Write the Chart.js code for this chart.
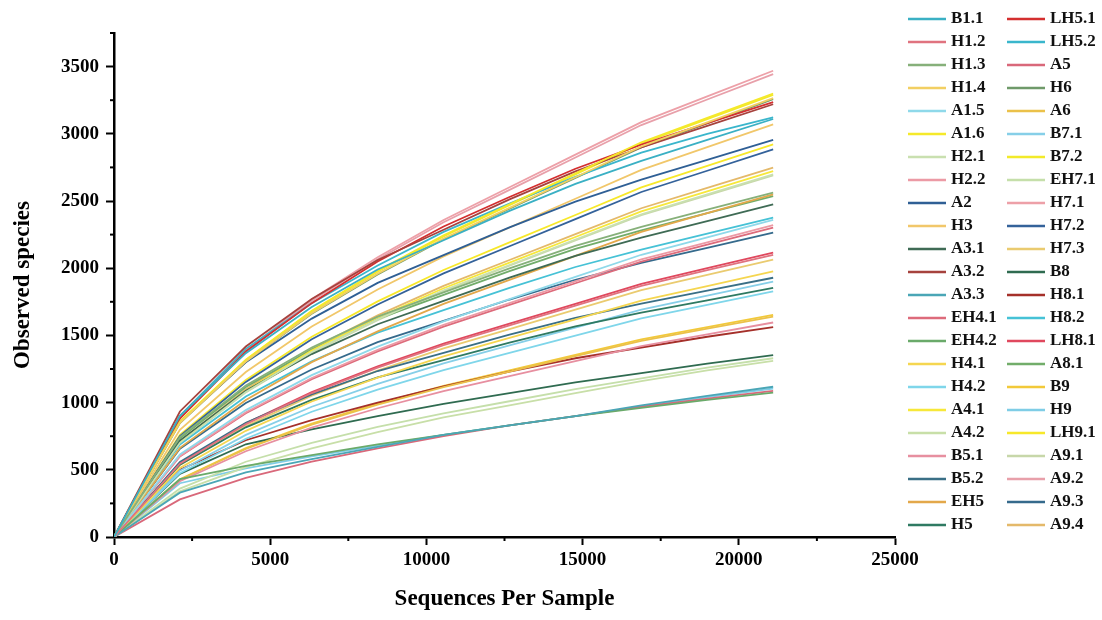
<!DOCTYPE html>
<html>
<head>
<meta charset="utf-8">
<script src="https://cdn.jsdelivr.net/npm/chart.js@4.4.1/dist/chart.umd.min.js"></script>
<style>
  html, body { margin: 0; padding: 0; background: #fff; }
  #wrap { width: 1102px; height: 620px; }
</style>
</head>
<body>
<div id="wrap"><canvas id="chartRarefaccion"></canvas></div>
<script>
// Profundidad de muestreo (eje X)
const profundidades = [0, 2110, 4220, 6330, 8440, 10550, 12660, 14770, 16880, 18990, 21100];

// Columna 1 de la leyenda
const B1_1  = [0, 902, 1368, 1711, 1990, 2208, 2426, 2628, 2799, 2955, 3110];
const H1_2  = [0, 546, 840, 1071, 1260, 1428, 1575, 1722, 1869, 1985, 2100];
const H1_3  = [0, 743, 1128, 1410, 1640, 1820, 1999, 2166, 2307, 2435, 2563];
const H1_4  = [0, 849, 1306, 1665, 1959, 2220, 2449, 2677, 2906, 3085, 3265];
const A1_5  = [0, 614, 944, 1204, 1416, 1605, 1770, 1935, 2100, 2230, 2360];
const A1_6  = [0, 858, 1320, 1683, 1980, 2244, 2475, 2706, 2937, 3119, 3300];
const H2_1  = [0, 701, 1079, 1376, 1619, 1835, 2024, 2212, 2401, 2550, 2698];
const H2_2  = [0, 603, 928, 1183, 1392, 1578, 1740, 1902, 2065, 2192, 2320];
const A2    = [0, 857, 1300, 1625, 1891, 2097, 2304, 2496, 2659, 2806, 2954];
const H3    = [0, 798, 1228, 1566, 1842, 2088, 2303, 2517, 2732, 2901, 3070];
const A3_1  = [0, 717, 1089, 1361, 1583, 1757, 1930, 2091, 2227, 2350, 2474];
const A3_2  = [0, 934, 1417, 1771, 2061, 2286, 2512, 2721, 2898, 3059, 3220];
const A3_3  = [0, 330, 480, 580, 670, 760, 830, 900, 980, 1050, 1118];
const EH4_1 = [0, 599, 921, 1174, 1381, 1565, 1727, 1888, 2049, 2175, 2302];
const EH4_2 = [0, 430, 530, 610, 690, 760, 830, 900, 960, 1020, 1075];
const H4_1  = [0, 514, 790, 1008, 1186, 1344, 1482, 1620, 1759, 1867, 1976];
const H4_2  = [0, 475, 731, 932, 1096, 1242, 1370, 1498, 1626, 1727, 1827];
const A4_1  = [0, 708, 1089, 1388, 1633, 1851, 2042, 2232, 2423, 2572, 2722];
const A4_2  = [0, 340, 520, 660, 780, 890, 980, 1070, 1160, 1240, 1310];
const B5_1  = [0, 415, 638, 814, 958, 1085, 1197, 1309, 1420, 1508, 1596];
const B5_2  = [0, 559, 849, 1061, 1235, 1370, 1505, 1630, 1736, 1833, 1929];
const EH5   = [0, 663, 1020, 1301, 1530, 1734, 1913, 2091, 2270, 2410, 2550];
const H5    = [0, 538, 816, 1020, 1187, 1316, 1446, 1567, 1669, 1761, 1854];

// Columna 2 de la leyenda
const LH5_1 = [0, 880, 1380, 1740, 2050, 2310, 2530, 2740, 2920, 3080, 3235];
const LH5_2 = [0, 900, 1400, 1740, 2020, 2270, 2480, 2680, 2860, 3000, 3123];
const A5    = [0, 280, 440, 560, 660, 750, 830, 900, 970, 1030, 1088];
const H6    = [0, 847, 1303, 1661, 1954, 2215, 2443, 2671, 2899, 3078, 3257];
const A6    = [0, 426, 656, 836, 984, 1115, 1230, 1345, 1460, 1550, 1640];
const B7_1  = [0, 494, 760, 969, 1140, 1292, 1425, 1558, 1691, 1796, 1900];
const B7_2  = [0, 855, 1316, 1678, 1974, 2237, 2468, 2698, 2928, 3109, 3290];
const EH7_1 = [0, 360, 560, 700, 820, 920, 1010, 1100, 1180, 1260, 1330];
const H7_1  = [0, 902, 1388, 1769, 2081, 2359, 2602, 2845, 3087, 3278, 3469];
const H7_2  = [0, 750, 1154, 1471, 1730, 1961, 2163, 2365, 2567, 2725, 2884];
const H7_3  = [0, 536, 825, 1052, 1238, 1403, 1547, 1692, 1836, 1950, 2063];
const B8    = [0, 470, 690, 800, 900, 990, 1070, 1150, 1220, 1290, 1354];
const H8_1  = [0, 500, 720, 870, 1000, 1120, 1230, 1330, 1410, 1490, 1561];
const H8_2  = [0, 689, 1046, 1307, 1521, 1688, 1854, 2009, 2139, 2258, 2377];
const LH8_1 = [0, 550, 846, 1079, 1270, 1439, 1587, 1735, 1883, 2000, 2116];
const A8_1  = [0, 735, 1116, 1395, 1623, 1801, 1978, 2143, 2282, 2409, 2536];
const B9    = [0, 430, 661, 843, 992, 1124, 1240, 1355, 1471, 1562, 1653];
const H9    = [0, 400, 510, 600, 680, 760, 830, 900, 970, 1040, 1105];
const LH9_1 = [0, 760, 1169, 1490, 1753, 1987, 2192, 2396, 2601, 2761, 2922];
const A9_1  = [0, 699, 1076, 1372, 1614, 1829, 2018, 2206, 2394, 2542, 2690];
const A9_2  = [0, 895, 1378, 1756, 2066, 2342, 2583, 2824, 3065, 3255, 3444];
const A9_3  = [0, 657, 997, 1246, 1450, 1608, 1767, 1914, 2039, 2152, 2265];
const A9_4  = [0, 714, 1099, 1401, 1649, 1869, 2061, 2253, 2446, 2597, 2748];

const muestras = [
  'B1.1', 'H1.2', 'H1.3', 'H1.4', 'A1.5', 'A1.6', 'H2.1', 'H2.2', 'A2', 'H3', 'A3.1', 'A3.2',
  'A3.3', 'EH4.1', 'EH4.2', 'H4.1', 'H4.2', 'A4.1', 'A4.2', 'B5.1', 'B5.2', 'EH5', 'H5',
  'LH5.1', 'LH5.2', 'A5', 'H6', 'A6', 'B7.1', 'B7.2', 'EH7.1', 'H7.1', 'H7.2', 'H7.3', 'B8',
  'H8.1', 'H8.2', 'LH8.1', 'A8.1', 'B9', 'H9', 'LH9.1', 'A9.1', 'A9.2', 'A9.3', 'A9.4'
];
const valores = [
  B1_1, H1_2, H1_3, H1_4, A1_5, A1_6, H2_1, H2_2, A2, H3, A3_1, A3_2,
  A3_3, EH4_1, EH4_2, H4_1, H4_2, A4_1, A4_2, B5_1, B5_2, EH5, H5,
  LH5_1, LH5_2, A5, H6, A6, B7_1, B7_2, EH7_1, H7_1, H7_2, H7_3, B8,
  H8_1, H8_2, LH8_1, A8_1, B9, H9, LH9_1, A9_1, A9_2, A9_3, A9_4
];
const colores = [
  '#3ab0c4', '#e0737f', '#86b07a', '#f2cf62', '#8fd9ea', '#f5e92a', '#c9e0b0', '#ec9aa5',
  '#2f5f95', '#f1c76a', '#3f6b55', '#a6423d', '#4aa6b6', '#dd6b7b', '#6aaa6a', '#f5d650',
  '#7fd6ea', '#f7e83a', '#c8dfa8', '#e78fa0', '#3a6f86', '#e3a84a', '#2f7a62',
  '#d42f2f', '#3ab6cc', '#d9687a', '#6f9a6a', '#ebc14a', '#86cfe8', '#f2ea2a', '#c5dfaa',
  '#eda0a8', '#34629a', '#eacb70', '#2f6b50', '#a5302a', '#46c2d6', '#e0485e', '#72ad6a',
  '#f2c93a', '#7fcde6', '#f7e82a', '#c7d7a9', '#e8a0aa', '#356a8c', '#e4b96a'
];

const fuente = '"Liberation Serif", "Times New Roman", serif';
const filasPorColumna = 23;

// Leyenda en dos columnas, dibujada a mano
const leyendaPlugin = {
  id: 'leyendaColumnas',
  afterDraw(chart) {
    const ctx = chart.ctx;
    ctx.save();
    ctx.font = 'bold 17px ' + fuente;
    ctx.textBaseline = 'middle';
    ctx.textAlign = 'left';
    chart.data.datasets.forEach((ds, i) => {
      const col = Math.floor(i / filasPorColumna);
      const fila = i % filasPorColumna;
      const x0 = col === 0 ? 908 : 1007;
      const y = 19 + fila * 23;
      ctx.strokeStyle = ds.borderColor;
      ctx.lineWidth = 2.5;
      ctx.beginPath();
      ctx.moveTo(x0, y);
      ctx.lineTo(x0 + 38, y);
      ctx.stroke();
      ctx.fillStyle = '#111';
      ctx.fillText(ds.label, x0 + 43, y);
    });
    ctx.restore();
  }
};

// Ticks menores (más cortos)
const ticksMenores = {
  id: 'ticksMenores',
  afterDraw(chart) {
    const ctx = chart.ctx;
    const {x, y} = chart.scales;
    ctx.save();
    ctx.strokeStyle = '#000';
    ctx.lineWidth = 2;
    x.ticks.forEach(t => {
      if (t.value % 5000 !== 0) {
        const px = x.getPixelForValue(t.value);
        ctx.beginPath();
        ctx.moveTo(px, x.top);
        ctx.lineTo(px, x.top + 4);
        ctx.stroke();
      }
    });
    y.ticks.forEach(t => {
      if (t.value % 500 !== 0) {
        const py = y.getPixelForValue(t.value);
        ctx.beginPath();
        ctx.moveTo(y.right, py);
        ctx.lineTo(y.right - 4, py);
        ctx.stroke();
      }
    });
    ctx.restore();
  }
};

const datasets = muestras.map((nombre, i) => ({
  label: nombre,
  data: profundidades.map((p, j) => ({ x: p, y: valores[i][j] })),
  borderColor: colores[i],
  backgroundColor: colores[i],
  borderWidth: 1.8,
  pointRadius: 0,
  tension: 0,
  fill: false
}));

new Chart(document.getElementById('chartRarefaccion'), {
  type: 'line',
  data: { datasets },
  options: {
    responsive: true,
    maintainAspectRatio: false,
    animation: false,
    devicePixelRatio: 1,
    layout: { padding: { left: 0, right: 207, top: 33, bottom: 0 } },
    plugins: {
      legend: { display: false },
      tooltip: { enabled: false }
    },
    scales: {
      x: {
        type: 'linear',
        min: 0,
        max: 25000,
        border: { color: '#000', width: 2.5 },
        grid: {
          drawOnChartArea: false,
          tickLength: 8,
          tickWidth: 2,
          tickColor: c => (c.tick && c.tick.value % 5000 === 0) ? '#000' : 'rgba(0,0,0,0)'
        },
        ticks: {
          stepSize: 2500,
          autoSkip: false,
          maxRotation: 0,
          padding: 4,
          color: '#000',
          font: { family: fuente, size: 19, weight: 'bold' },
          callback: v => (v % 5000 === 0 ? String(v) : '')
        },
        title: {
          display: true,
          text: 'Sequences Per Sample',
          color: '#000',
          font: { family: fuente, size: 23, weight: 'bold' },
          padding: { top: 0, bottom: 7 }
        },
        afterFit: s => { s.height = 83; }
      },
      y: {
        min: 0,
        max: 3750,
        border: { color: '#000', width: 2.5 },
        grid: {
          drawOnChartArea: false,
          tickLength: 8,
          tickWidth: 2,
          tickColor: c => (c.tick && c.tick.value % 500 === 0) ? '#000' : 'rgba(0,0,0,0)'
        },
        ticks: {
          stepSize: 250,
          autoSkip: false,
          padding: 7,
          color: '#000',
          font: { family: fuente, size: 19, weight: 'bold' },
          callback: v => (v % 500 === 0 ? String(v) : '')
        },
        title: {
          display: true,
          text: 'Observed species',
          color: '#000',
          font: { family: fuente, size: 23, weight: 'bold' },
          padding: { top: 9, bottom: 0 }
        },
        afterFit: s => { s.width = 114; }
      }
    }
  },
  plugins: [leyendaPlugin, ticksMenores]
});
</script>
</body>
</html>
